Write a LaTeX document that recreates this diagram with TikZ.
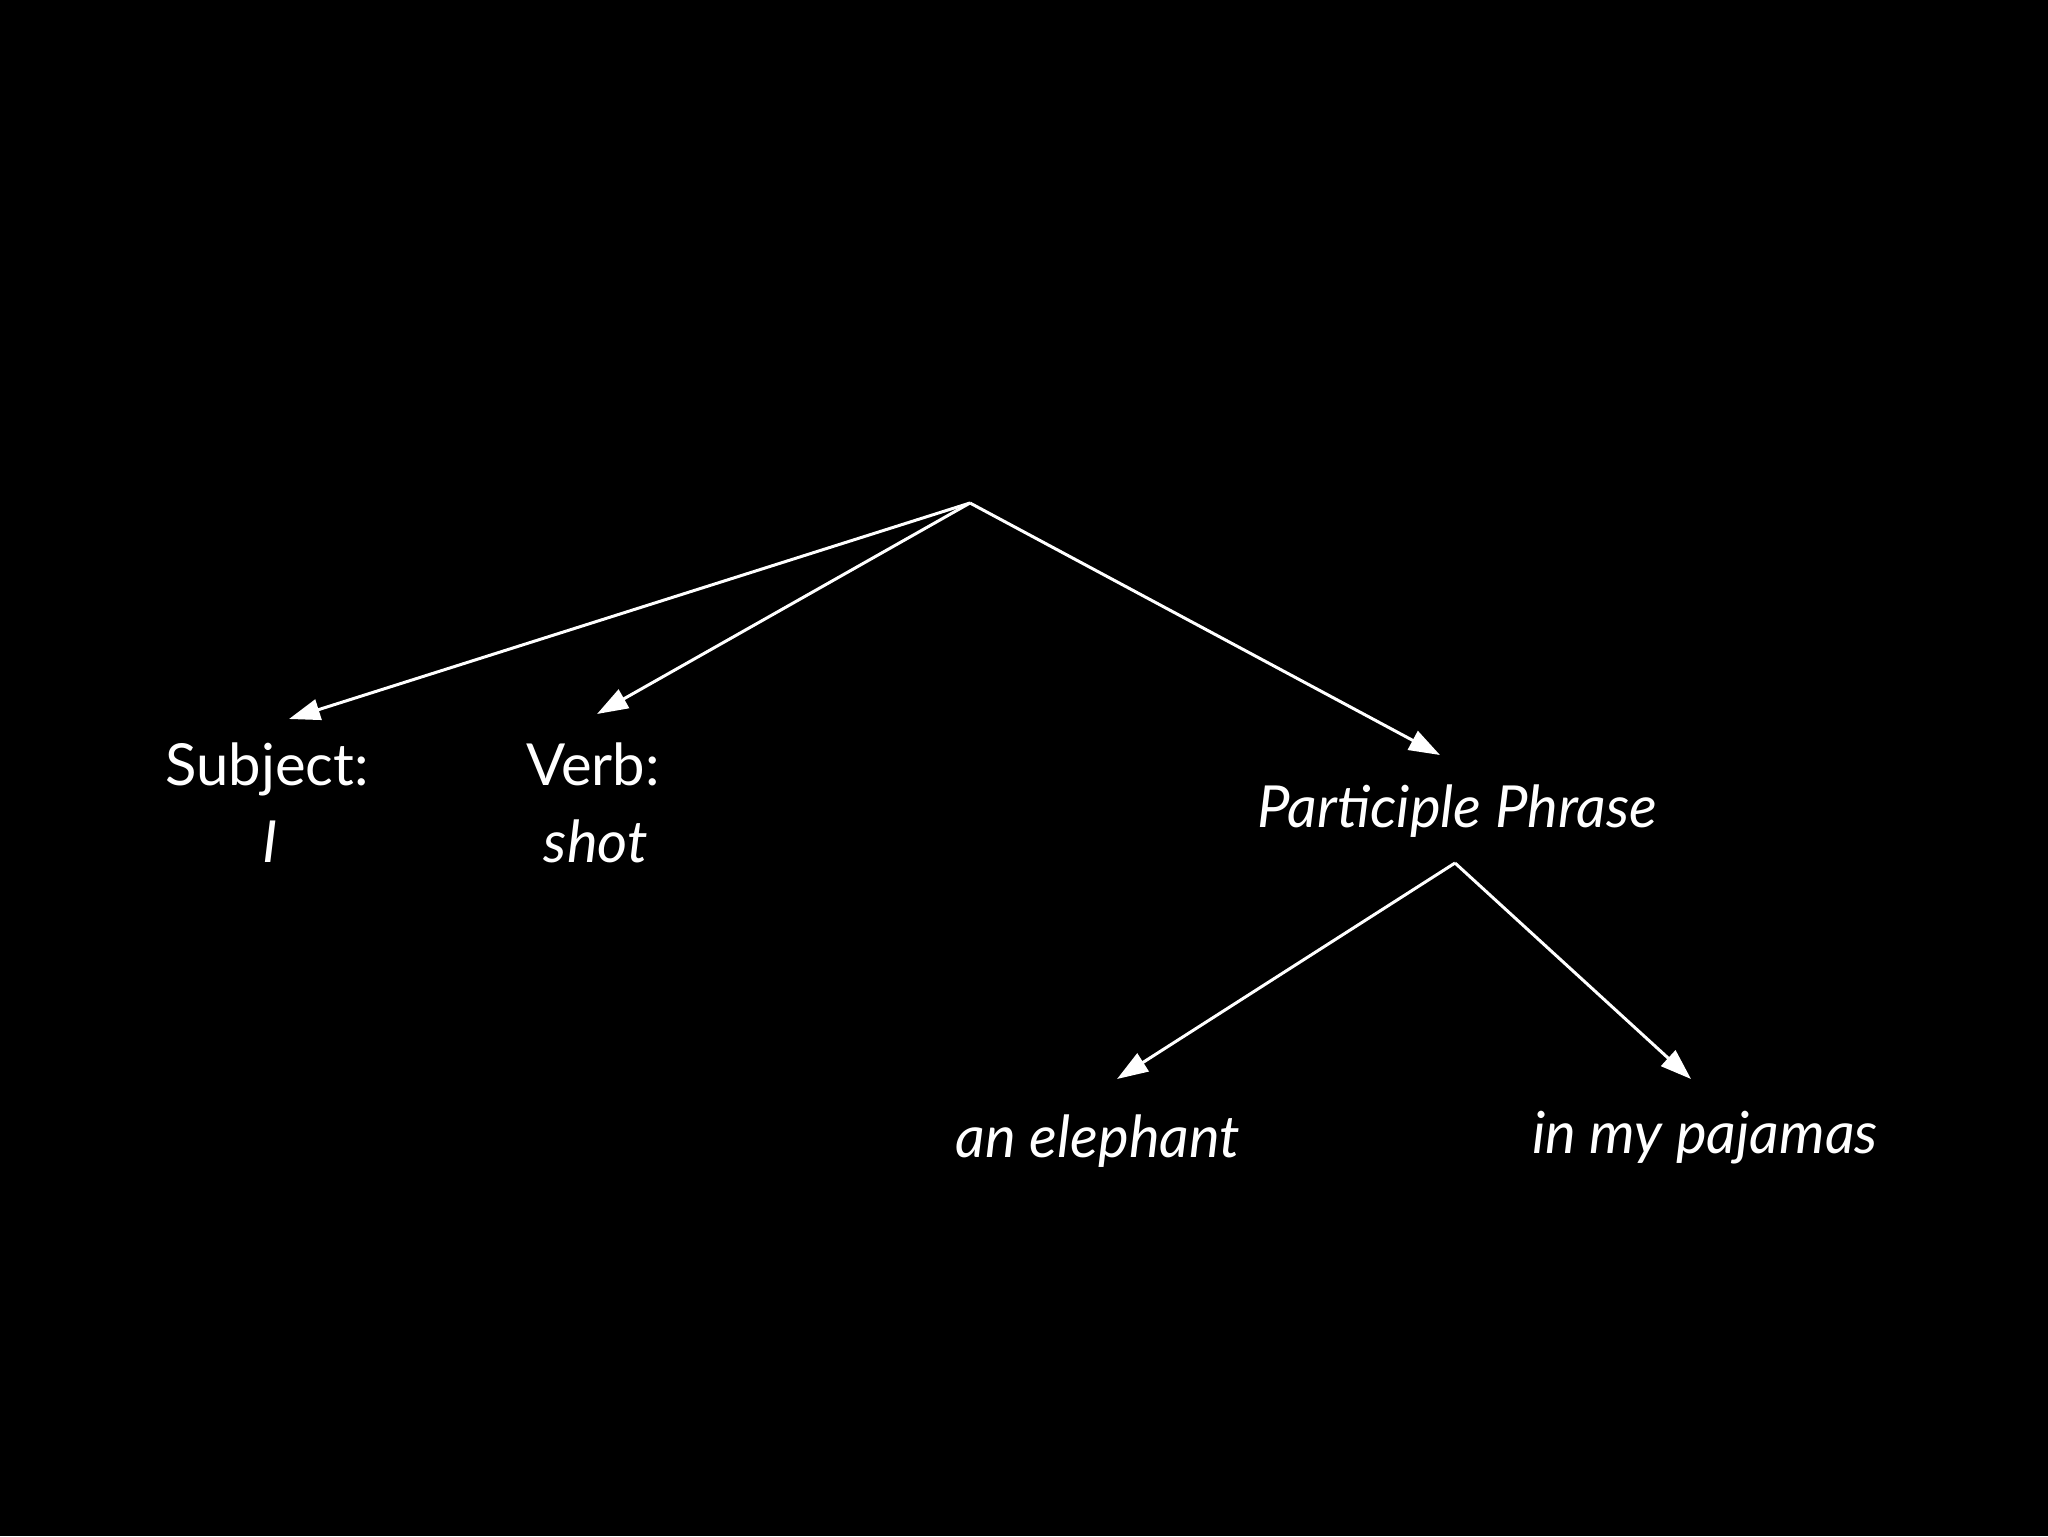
\documentclass[tikz,border=0pt]{standalone}
\usepackage{fontspec}
\setmainfont{Lato}
\usetikzlibrary{arrows.meta}
\begin{document}
\begin{tikzpicture}[x=0.5pt,y=-0.5pt,
  lbl/.style={text=white,anchor=base,inner sep=0pt,font=\fontsize{29}{34}\selectfont},
  ilbl/.style={lbl,font=\fontsize{29}{34}\selectfont\itshape},
  edge/.style={draw=white,line width=1.5pt,-{Triangle[length=15.5pt,width=10.5pt]}}]
\fill[black] (0,0) rectangle (2048,1536);
\useasboundingbox (0,0) rectangle (2048,1536);
\coordinate (root) at (970,503);
\coordinate (ppapex) at (1455,863);
\coordinate (tsubj) at (289,719);
\coordinate (tverb) at (597,714);
\coordinate (tpp) at (1440,755);
\coordinate (tele) at (1117,1079);
\coordinate (tpaj) at (1691,1079);
\node[lbl] (subj) at (267,785) {Subject:};
\node[ilbl] (subjI) at (270,862) {I};
\node[lbl] (verb) at (593,785) {Verb:};
\node[ilbl] (shot) at (596,862) {shot};
\node[ilbl] (pp) at (1457,827) {Participle Phrase};
\node[ilbl] (ele) at (1098,1157) {an elephant};
\node[ilbl] (paj) at (1705,1153) {in my pajamas};
\draw[edge] (root) -- (tsubj);
\draw[edge] (root) -- (tverb);
\draw[edge] (root) -- (tpp);
\draw[edge] (ppapex) -- (tele);
\draw[edge] (ppapex) -- (tpaj);
\end{tikzpicture}
\end{document}
